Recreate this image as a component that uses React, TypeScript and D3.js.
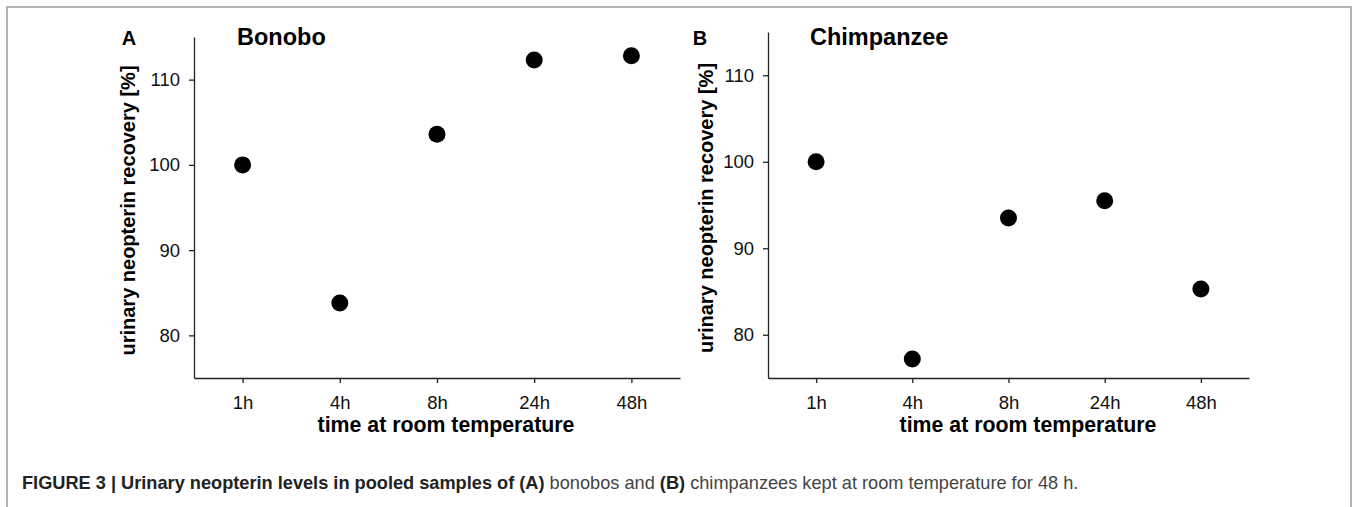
import { useEffect, useRef } from "react";
import * as d3 from "d3";

// values
const timeLabels = ["1h", "4h", "8h", "24h", "48h"];
const bonoboRecovery = [100, 83.8, 103.6, 112.3, 112.8];
const chimpanzeeRecovery = [100, 77.2, 93.5, 95.5, 85.3];
const yTicks = [80, 90, 100, 110];
const yDomain: [number, number] = [75, 115];

type Panel = {
  letter: string;
  title: string;
  values: number[];
  left: number;
  right: number;
  top: number;
  bottom: number;
  letterX: number;
  titleX: number;
  yLabelX: number;
  xLabelX: number;
};

const panels: Panel[] = [
  {
    letter: "A",
    title: "Bonobo",
    values: bonoboRecovery,
    left: 194,
    right: 680,
    top: 37,
    bottom: 378,
    letterX: 129,
    titleX: 237,
    yLabelX: 128,
    xLabelX: 446,
  },
  {
    letter: "B",
    title: "Chimpanzee",
    values: chimpanzeeRecovery,
    left: 768,
    right: 1249,
    top: 32,
    bottom: 378,
    letterX: 700,
    titleX: 810,
    yLabelX: 706,
    xLabelX: 1028,
  },
];

const FONT = "'Liberation Sans', Arial, Helvetica, sans-serif";

export default function App() {
  const ref = useRef<SVGSVGElement | null>(null);

  useEffect(() => {
    if (!ref.current) return;
    const svg = d3.select(ref.current);
    svg.selectAll("*").remove();

    // figure frame
    svg
      .append("rect")
      .attr("x", 7)
      .attr("y", 7)
      .attr("width", 1344)
      .attr("height", 520)
      .attr("fill", "none")
      .attr("stroke", "#9a9a9a")
      .attr("stroke-width", 1.5);

    panels.forEach((p) => {
      const x = d3
        .scalePoint<string>()
        .domain(timeLabels)
        .range([p.left, p.right])
        .padding(0.5);
      const y = d3.scaleLinear().domain(yDomain).range([p.bottom, p.top]);

      const g = svg.append("g").attr("font-family", FONT);

      // y axis
      const yAxis = g
        .append("g")
        .attr("transform", `translate(${p.left},0)`)
        .call(
          d3.axisLeft(y).tickValues(yTicks).tickSize(5).tickSizeOuter(0).tickPadding(9)
        );
      yAxis.select(".domain").attr("stroke", "#222").attr("stroke-width", 1.3);
      yAxis.selectAll("line").attr("stroke", "#222").attr("stroke-width", 1.3);
      yAxis
        .selectAll("text")
        .attr("font-size", 18.5)
        .attr("font-family", FONT)
        .attr("fill", "#111");

      // x axis
      const xAxis = g
        .append("g")
        .attr("transform", `translate(0,${p.bottom})`)
        .call(d3.axisBottom(x).tickSize(5).tickSizeOuter(0).tickPadding(13));
      xAxis.select(".domain").attr("stroke", "#222").attr("stroke-width", 1.3);
      xAxis.selectAll("line").attr("stroke", "#222").attr("stroke-width", 1.3);
      xAxis
        .selectAll("text")
        .attr("font-size", 18.5)
        .attr("font-family", FONT)
        .attr("fill", "#111");

      // points
      g.selectAll("circle")
        .data(p.values)
        .join("circle")
        .attr("cx", (_, i) => x(timeLabels[i]) ?? 0)
        .attr("cy", (d) => y(d))
        .attr("r", 8.5)
        .attr("fill", "#000");

      g.append("text")
        .attr("x", p.letterX)
        .attr("y", 45)
        .attr("text-anchor", "middle")
        .attr("font-size", 20)
        .attr("font-weight", "bold")
        .text(p.letter);

      g.append("text")
        .attr("x", p.titleX)
        .attr("y", 45)
        .attr("font-size", 23.5)
        .attr("font-weight", "bold")
        .text(p.title);

      g.append("text")
        .attr("transform", `translate(${p.yLabelX + 7},${(p.top + p.bottom) / 2 + 3}) rotate(-90)`)
        .attr("text-anchor", "middle")
        .attr("font-size", 20)
        .attr("font-weight", "bold")
        .text("urinary neopterin recovery [%]");

      g.append("text")
        .attr("x", p.xLabelX)
        .attr("y", 432)
        .attr("text-anchor", "middle")
        .attr("font-size", 21.3)
        .attr("font-weight", "bold")
        .text("time at room temperature");
    });

    // caption
    const caption = svg
      .append("text")
      .attr("x", 22)
      .attr("y", 489)
      .attr("font-family", FONT)
      .attr("font-size", 18.2);
    caption
      .append("tspan")
      .attr("font-weight", "bold")
      .attr("fill", "#222")
      .text("FIGURE 3 | Urinary neopterin levels in pooled samples of (A)");
    caption.append("tspan").attr("fill", "#444").text(" bonobos and ");
    caption.append("tspan").attr("font-weight", "bold").attr("fill", "#222").text("(B)");
    caption
      .append("tspan")
      .attr("fill", "#444")
      .text(" chimpanzees kept at room temperature for 48 h.");
  }, []);

  return (
    <svg
      ref={ref}
      width={1357}
      height={507}
      style={{ position: "absolute", left: 0, top: 0, background: "#fff" }}
    />
  );
}
